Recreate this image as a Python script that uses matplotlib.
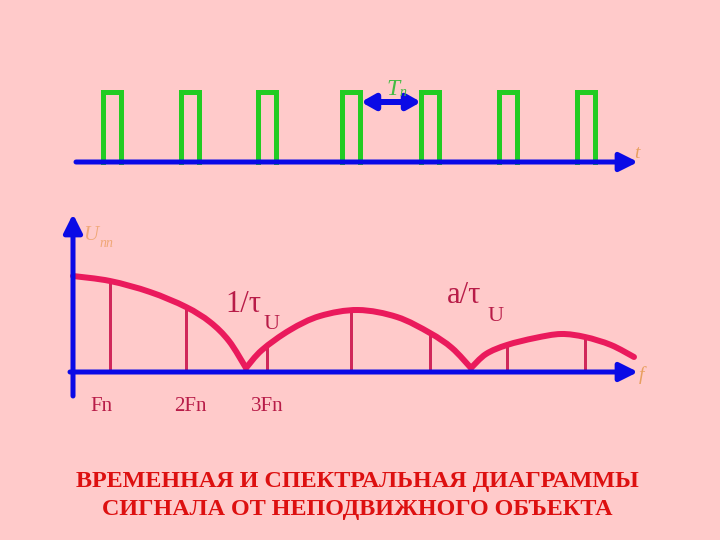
import matplotlib
matplotlib.use("Agg")
import matplotlib.pyplot as plt
from matplotlib.path import Path
from matplotlib.patches import PathPatch

# ---------------- data (pixel-like units) -------------
pulse_starts = [103, 181, 258, 342, 421, 499, 577]          # time pulses
pulse_width = 18
pulse_top = 92
time_axis_y = 162

harmonic_f = [110, 186, 267, 351, 430, 507, 585]            # spectral lines
harmonic_amp = [283, 310, 348, 310, 333, 346, 337]          # top of each line

env_lobe1_f = [73, 110, 150, 186, 210, 229, 246]
env_lobe1_a = [276, 281, 292, 307, 322, 341, 368]
env_lobe2_f = [246, 262, 290, 320, 358, 397, 430, 452, 471]
env_lobe2_a = [368, 350, 330, 316, 310, 317, 333, 348, 368]
env_lobe3_f = [471, 486, 507, 535, 561, 585, 611, 634]
env_lobe3_a = [368, 354, 345, 338, 334, 337, 345, 357]

freq_labels = ["Fn", "2Fn", "3Fn"]
freq_label_x = [101, 190, 267]

title_lines = ["ВРЕМЕННАЯ И СПЕКТРАЛЬНАЯ ДИАГРАММЫ",
               "СИГНАЛА ОТ НЕПОДВИЖНОГО ОБЪЕКТА"]

# ---------------- style -------------------------------------------------------
BG = "#ffcaca"
BLUE = "#0a0ae6"
GREEN = "#22cc22"
CURVE = "#ea1a5c"
LINE = "#d0285a"
LABEL = "#b81c48"
ORANGE = "#e8a060"
TITLE = "#dd1010"
SERIF = ["Liberation Serif", "DejaVu Serif"]

fig = plt.figure(figsize=(7.2, 5.4), dpi=100, facecolor=BG)
ax = fig.add_axes([0, 0, 1, 1])
ax.set_xlim(0, 720)
ax.set_ylim(540, 0)
ax.axis("off")
ax.set_facecolor(BG)

px = 0.72  # points per pixel


def smooth_path(xs, ys):
    """Catmull-Rom through the read points, drawn as cubic Bezier segments."""
    pts = list(zip(xs, ys))
    verts = [pts[0]]
    codes = [Path.MOVETO]
    n = len(pts)
    for i in range(n - 1):
        p0 = pts[i - 1] if i > 0 else pts[i]
        p1 = pts[i]
        p2 = pts[i + 1]
        p3 = pts[i + 2] if i + 2 < n else pts[i + 1]
        c1 = (p1[0] + (p2[0] - p0[0]) / 6, p1[1] + (p2[1] - p0[1]) / 6)
        c2 = (p2[0] - (p3[0] - p1[0]) / 6, p2[1] - (p3[1] - p1[1]) / 6)
        verts += [c1, c2, p2]
        codes += [Path.CURVE4] * 3
    return Path(verts, codes)


# ---------------- top: pulse train -------------------------------------------
for x0 in pulse_starts:
    ax.plot([x0, x0, x0 + pulse_width, x0 + pulse_width],
            [time_axis_y, pulse_top, pulse_top, time_axis_y],
            color=GREEN, lw=5 * px, solid_joinstyle="miter", zorder=2)

ax.annotate("", xy=(638, time_axis_y), xytext=(76, time_axis_y),
            arrowprops=dict(arrowstyle="-|>,head_length=1.1,head_width=0.55",
                            color=BLUE, lw=5 * px, shrinkA=0, shrinkB=0),
            zorder=3)
ax.text(637, 158, "t", color=ORANGE, fontsize=14, style="italic",
        family=SERIF, ha="center", va="baseline")

# period arrow
ax.text(386, 95, "T", color="#44bb44", fontsize=17, style="italic",
        family=SERIF, ha="left", va="baseline", zorder=2)
ax.annotate("", xy=(421, 102), xytext=(361, 102),
            arrowprops=dict(arrowstyle="<|-|>,head_length=0.8,head_width=0.45",
                            color=BLUE, lw=6 * px, shrinkA=0, shrinkB=0),
            zorder=3)
ax.text(399, 96, "п", color="#44bb44", fontsize=10, style="italic",
        family=SERIF, ha="left", va="baseline", zorder=5)

# ---------------- bottom: spectrum -------------------------------------------
axis_y = 372
ax.annotate("", xy=(73, 214), xytext=(73, 396),
            arrowprops=dict(arrowstyle="-|>,head_length=1.1,head_width=0.55",
                            color=BLUE, lw=5 * px, shrinkA=0, shrinkB=0),
            zorder=3)
ax.annotate("", xy=(638, axis_y), xytext=(70, axis_y),
            arrowprops=dict(arrowstyle="-|>,head_length=1.1,head_width=0.55",
                            color=BLUE, lw=5 * px, shrinkA=0, shrinkB=0),
            zorder=3)

ax.text(83, 240, "U", color="#f0a878", fontsize=15, style="italic",
        family=SERIF, ha="left", va="baseline")
ax.text(100, 247, "пп", color="#f0a878", fontsize=10, style="italic",
        family=SERIF, ha="left", va="baseline")
ax.text(641, 380, "f", color=ORANGE, fontsize=14, style="italic",
        family=SERIF, ha="center", va="baseline")

for f, a in zip(harmonic_f, harmonic_amp):
    ax.plot([f, f], [axis_y, a], color=LINE, lw=3 * px, zorder=2)

for fx, fa in [(env_lobe1_f, env_lobe1_a), (env_lobe2_f, env_lobe2_a),
               (env_lobe3_f, env_lobe3_a)]:
    ax.add_patch(PathPatch(smooth_path(fx, fa), fill=False, edgecolor=CURVE,
                           lw=6 * px, capstyle="round", joinstyle="round",
                           zorder=2.5))

for lab, x in zip(freq_labels, freq_label_x):
    ax.text(x, 411, lab, color=LABEL, fontsize=15, family=SERIF,
            ha="center", va="baseline")

ax.text(225, 312, "1/τ", color=LABEL, fontsize=22, family=SERIF,
        ha="left", va="baseline")
ax.text(263, 329, "U", color=LABEL, fontsize=16, family=SERIF,
        ha="left", va="baseline")
ax.text(447, 303, "a/τ", color=LABEL, fontsize=22, family=SERIF,
        ha="left", va="baseline")
ax.text(487, 321, "U", color=LABEL, fontsize=16, family=SERIF,
        ha="left", va="baseline")

# ---------------- title ------------------------------------------------------
for i, line in enumerate(title_lines):
    ax.text(357, 487 + i * 28, line, color=TITLE, fontsize=17.4,
            fontweight="bold", family=SERIF, ha="center", va="baseline")

fig.savefig("out.png", dpi=100, facecolor=BG)
